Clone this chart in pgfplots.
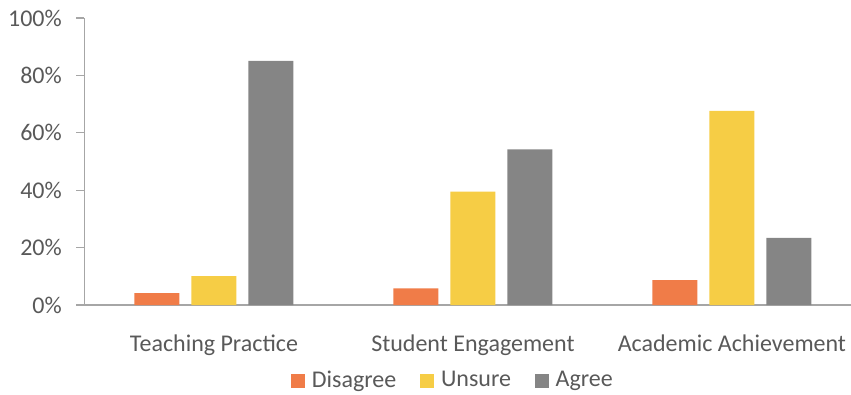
\documentclass[border=0pt]{standalone}
\usepackage{pgfplots}
\pgfplotsset{compat=1.18}
\usepackage{fontspec}
\setmainfont{Carlito}
\definecolor{cOr}{HTML}{F07C48}
\definecolor{cYe}{HTML}{F6CD45}
\definecolor{cGr}{HTML}{858585}
\definecolor{cTx}{HTML}{595959}
\definecolor{cAx}{HTML}{A6A6A6}
\begin{document}
\fontsize{24}{28}\selectfont
\begin{tikzpicture}[x=1pt,y=1pt]
\path[use as bounding box] (0,0) rectangle (851,394);
\begin{axis}[
  at={(84.5pt,89pt)}, anchor=south west,
  scale only axis, width=766.5pt, height=287pt,
  xmin=-0.5, xmax=2.46, ymin=0, ymax=100,
  axis lines*=left,
  axis line style={cAx, line width=1.3pt},
  ytick={0,20,...,100},
  yticklabels={0\%,20\%,40\%,60\%,80\%,100\%},
  xtick={0,1,2},
  xticklabels={Teaching Practice, Student Engagement, Academic Achievement},
  tick align=outside, major tick length=8pt,
  ytick style={cAx, line width=1.3pt},
  xtick style={draw=none},
  tick label style={text=cTx, font=\fontsize{24}{28}\selectfont},
  yticklabel style={anchor=east, inner sep=0pt, xshift=-14.5pt},
  xticklabel style={anchor=base, inner sep=0pt, yshift=-38pt},
  legend columns=3,
  legend image code/.code={\fill[#1] (0pt,-7pt) rectangle (14pt,7pt);},
  legend style={at={(0.4795,-0.2645)}, anchor=center, draw=none, fill=none,
    font=\fontsize{24}{28}\selectfont, text=cTx,
    nodes={inner xsep=0pt},
    /tikz/every odd column/.append style={column sep=6.7pt},
    /tikz/every even column/.append style={column sep=24pt}},
  clip=false,
]
\addplot[ybar, bar width=45pt, bar shift=-57pt, fill=cOr, draw=none]
  coordinates {(0,4.1) (1,5.8) (2,8.7)};
\addplot[ybar, bar width=45pt, bar shift=0pt, fill=cYe, draw=none]
  coordinates {(0,10.1) (1,39.5) (2,67.6)};
\addplot[ybar, bar width=45pt, bar shift=57pt, fill=cGr, draw=none]
  coordinates {(0,85.1) (1,54.2) (2,23.4)};
\legend{Disagree, Unsure, Agree}
\end{axis}
\end{tikzpicture}
\end{document}
